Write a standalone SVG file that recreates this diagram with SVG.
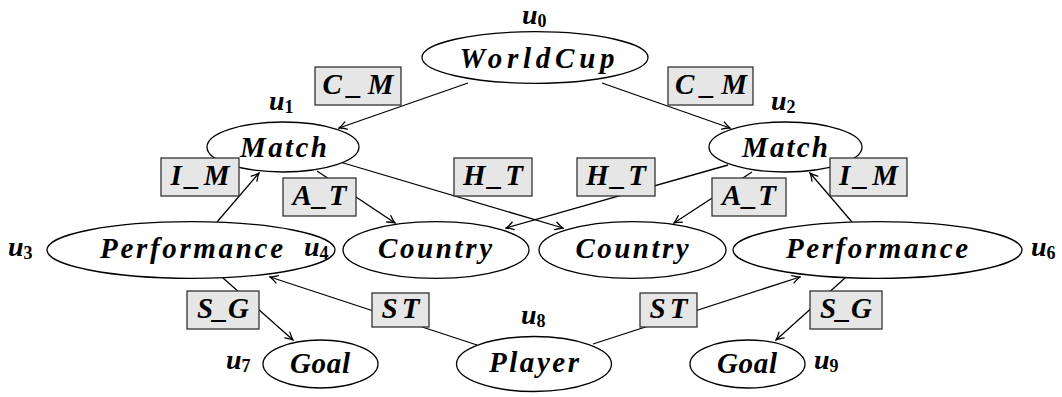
<svg xmlns="http://www.w3.org/2000/svg" width="1062" height="397" viewBox="0 0 1062 397">
  <defs>
    <!-- open "to"-style arrow tip -->
    <marker id="tip" viewBox="-9 -5 10 10" refX="0" refY="0" markerWidth="10" markerHeight="10" markerUnits="userSpaceOnUse" orient="auto">
      <path d="M-7.5,-3.8 Q-3,-0.9 0,0 Q-3,0.9 -7.5,3.8" fill="none" stroke="#000" stroke-width="1.3" stroke-linecap="round"/>
    </marker>
  </defs>
  <style>
    .edge { stroke: #000; stroke-width: 1.3; fill: none; marker-end: url(#tip); }
    .node ellipse { fill: #fff; stroke: #000; stroke-width: 1.3; }
    .name { font-family: "Liberation Serif", serif; font-weight: bold; font-style: italic; font-size: 29px; text-anchor: middle; fill: #000; }
    .uid { font-family: "Liberation Serif", serif; font-weight: bold; font-style: italic; font-size: 28px; fill: #000; }
    .uid .sub { font-style: normal; font-size: 18px; }
    .tag rect { fill: #e6e6e6; stroke: #333; stroke-width: 1.3; }
    .tag text { font-family: "Liberation Serif", serif; font-weight: bold; font-style: italic; font-size: 29px; text-anchor: middle; fill: #000; }
  </style>

  <rect width="1062" height="397" fill="#fff"/>

  <!-- connectors -->
  <g id="connectors">
    <line class="edge" x1="468" y1="83" x2="339" y2="128"/>
    <line class="edge" x1="602" y1="83" x2="730" y2="128"/>
    <line class="edge" x1="217" y1="222" x2="259" y2="173"/>
    <line class="edge" x1="317" y1="171" x2="395" y2="223"/>
    <line class="edge" x1="340" y1="162" x2="563" y2="228"/>
    <line class="edge" x1="728" y1="165" x2="506" y2="228"/>
    <line class="edge" x1="752" y1="172" x2="674" y2="223"/>
    <line class="edge" x1="852" y1="222" x2="810" y2="173"/>
    <line class="edge" x1="223" y1="278" x2="293" y2="340"/>
    <line class="edge" x1="845" y1="278" x2="776" y2="340"/>
    <line class="edge" x1="477" y1="345" x2="270" y2="277"/>
    <line class="edge" x1="593" y1="344" x2="800" y2="277"/>
  </g>

  <!-- nodes -->
  <g id="u0" class="node">
    <ellipse cx="535" cy="57.5" rx="113" ry="25.8"/>
    <text class="name" x="537" y="68" textLength="155" lengthAdjust="spacing">WorldCup</text>
    <text class="uid" x="522" y="24">u<tspan class="sub" dy="3">0</tspan></text>
  </g>
  <g id="u1" class="node">
    <ellipse cx="283" cy="147" rx="76" ry="25"/>
    <text class="name" x="283.5" y="157" textLength="87" lengthAdjust="spacing">Match</text>
    <text class="uid" x="269" y="110">u<tspan class="sub" dy="3">1</tspan></text>
  </g>
  <g id="u2" class="node">
    <ellipse cx="785.5" cy="147" rx="76.5" ry="25"/>
    <text class="name" x="785" y="157" textLength="86" lengthAdjust="spacing">Match</text>
    <text class="uid" x="771" y="110">u<tspan class="sub" dy="3">2</tspan></text>
  </g>
  <g id="u3" class="node">
    <ellipse cx="191" cy="250" rx="144" ry="28.3"/>
    <text class="name" x="191.5" y="258" textLength="183" lengthAdjust="spacing">Performance</text>
    <text class="uid" x="8" y="256">u<tspan class="sub" dy="3">3</tspan></text>
  </g>
  <g id="u4" class="node">
    <ellipse cx="436" cy="250" rx="93" ry="28.3"/>
    <text class="name" x="435" y="258" textLength="114" lengthAdjust="spacing">Country</text>
    <text class="uid" x="304" y="256">u<tspan class="sub" dy="3">4</tspan></text>
  </g>
  <g id="u5" class="node">
    <ellipse cx="632.5" cy="250" rx="93.5" ry="28.3"/>
    <text class="name" x="632" y="258" textLength="113" lengthAdjust="spacing">Country</text>
    <text class="uid" x="736" y="256">u<tspan class="sub" dy="3">5</tspan></text>
  </g>
  <g id="u6" class="node">
    <ellipse cx="877.5" cy="250" rx="144.5" ry="28.3"/>
    <text class="name" x="877" y="258" textLength="182" lengthAdjust="spacing">Performance</text>
    <text class="uid" x="1031" y="256">u<tspan class="sub" dy="3">6</tspan></text>
  </g>
  <g id="u7" class="node">
    <ellipse cx="320.5" cy="364" rx="57.5" ry="24"/>
    <text class="name" x="320" y="373" textLength="60" lengthAdjust="spacing">Goal</text>
    <text class="uid" x="226" y="369">u<tspan class="sub" dy="3">7</tspan></text>
  </g>
  <g id="u8" class="node">
    <ellipse cx="534" cy="364" rx="77.5" ry="27.5"/>
    <text class="name" x="534" y="372" textLength="90" lengthAdjust="spacing">Player</text>
    <text class="uid" x="521" y="324">u<tspan class="sub" dy="3">8</tspan></text>
  </g>
  <g id="u9" class="node">
    <ellipse cx="747.5" cy="364" rx="57.5" ry="24"/>
    <text class="name" x="747" y="373" textLength="60" lengthAdjust="spacing">Goal</text>
    <text class="uid" x="814" y="369">u<tspan class="sub" dy="3">9</tspan></text>
  </g>

  <!-- edge label boxes -->
  <g id="edge-labels">
    <g class="tag"><rect x="315" y="67" width="86" height="38"/><text x="358" y="94" textLength="71" lengthAdjust="spacing">C_M</text></g>
    <g class="tag"><rect x="668" y="67" width="85" height="38"/><text x="711" y="94" textLength="72" lengthAdjust="spacing">C_M</text></g>
    <g class="tag"><rect x="161" y="158" width="78" height="38"/><text x="200" y="185" textLength="59" lengthAdjust="spacing">I_M</text></g>
    <g class="tag"><rect x="283" y="178" width="73" height="38"/><text x="319.5" y="205" textLength="54" lengthAdjust="spacing">A_T</text></g>
    <g class="tag"><rect x="454" y="158" width="78" height="38"/><text x="493" y="185" textLength="60" lengthAdjust="spacing">H_T</text></g>
    <g class="tag"><rect x="577" y="158" width="78" height="38"/><text x="616" y="185" textLength="60" lengthAdjust="spacing">H_T</text></g>
    <g class="tag"><rect x="712" y="178" width="74" height="38"/><text x="749" y="205" textLength="54" lengthAdjust="spacing">A_T</text></g>
    <g class="tag"><rect x="830" y="158" width="77" height="38"/><text x="868.5" y="185" textLength="59" lengthAdjust="spacing">I_M</text></g>
    <g class="tag"><rect x="187" y="291" width="72" height="38"/><text x="223" y="318" textLength="52" lengthAdjust="spacing">S_G</text></g>
    <g class="tag"><rect x="810" y="291" width="72" height="38"/><text x="846" y="318" textLength="52" lengthAdjust="spacing">S_G</text></g>
    <g class="tag"><rect x="372" y="293" width="57" height="34"/><text x="400.5" y="318" textLength="38" lengthAdjust="spacing">ST</text></g>
    <g class="tag"><rect x="640" y="293" width="57" height="34"/><text x="668.5" y="318" textLength="38" lengthAdjust="spacing">ST</text></g>
  </g>
</svg>
